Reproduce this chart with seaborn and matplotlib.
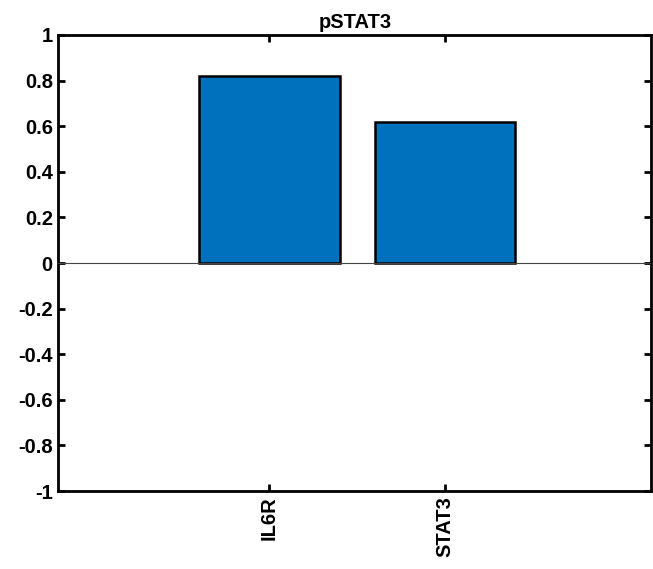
import matplotlib
matplotlib.use("Agg")
import matplotlib.pyplot as plt
import seaborn as sns
import pandas as pd

categories = ["IL6R", "STAT3"]
values = [0.82, 0.62]
yticks = [-1, -0.8, -0.6, -0.4, -0.2, 0, 0.2, 0.4, 0.6, 0.8, 1]
ytick_labels = ["-1", "-0.8", "-0.6", "-0.4", "-0.2", "0", "0.2", "0.4", "0.6", "0.8", "1"]
title = "pSTAT3"

sns.set_theme(style="white")
plt.rcParams['font.family'] = ['Liberation Sans', 'DejaVu Sans']
plt.rcParams['font.weight'] = 'bold'
plt.rcParams['text.color'] = 'black'

df = pd.DataFrame({"gene": categories, "value": values})

fig = plt.figure(figsize=(6.53, 5.69), dpi=100)
ax = fig.add_axes([0.0893, 0.137, 0.908, 0.8015])

sns.barplot(data=df, x="gene", y="value", ax=ax, color="#0072BD", saturation=1,
            width=0.8, edgecolor="black", linewidth=1.8, zorder=2)

ax.axhline(0, color="#444444", linewidth=0.8, zorder=3)
ax.set_xlim(-1.206, 2.18)
ax.set_ylim(-1, 1)
ax.set_yticks(yticks)
ax.set_yticklabels(ytick_labels, fontsize=14.5, fontweight="bold")
ax.set_xticks(range(len(categories)))
ax.set_xticklabels(categories, rotation=90, fontsize=14.5, fontweight="bold")
ax.set_xlabel("")
ax.set_ylabel("")
ax.set_title(title, fontsize=14.5, fontweight="bold", pad=5, color="black")

for s in ax.spines.values():
    s.set_visible(True)
    s.set_color("black")
    s.set_linewidth(2)
ax.tick_params(axis="both", direction="in", length=5, width=2, color="black",
               top=True, right=True, bottom=True, left=True, labelcolor="black", pad=4)
ax.grid(False)

fig.savefig("out.png", dpi=100)
